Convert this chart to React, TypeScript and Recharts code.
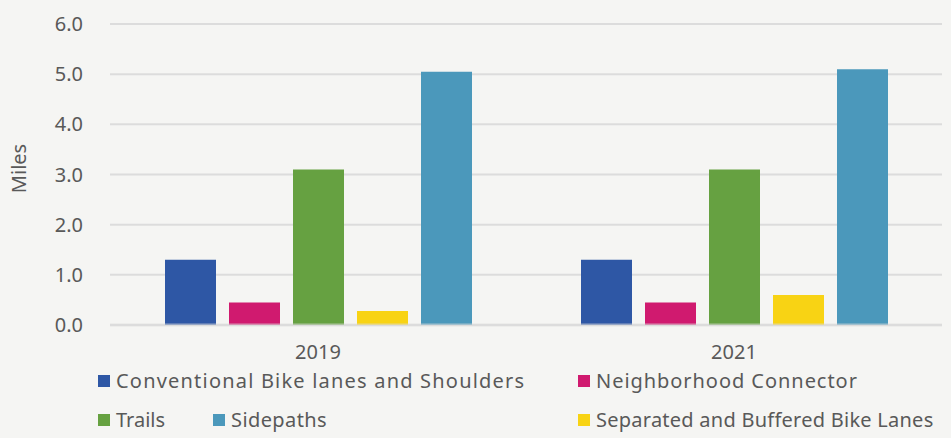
import React from "react";
import {
  BarChart,
  Bar,
  XAxis,
  YAxis,
  CartesianGrid,
  Legend,
  ReferenceLine,
} from "recharts";

const years = ["2019", "2021"];
const conventional = [1.3, 1.3];
const neighborhood = [0.45, 0.45];
const trails = [3.1, 3.1];
const separated = [0.28, 0.6];
const sidepaths = [5.05, 5.1];
const yTicks = [0, 1, 2, 3, 4, 5, 6];

const data = years.map((year, i) => ({
  year,
  conventional: conventional[i],
  neighborhood: neighborhood[i],
  trails: trails[i],
  separated: separated[i],
  sidepaths: sidepaths[i],
}));

const series = [
  { key: "conventional", name: "Conventional Bike lanes and Shoulders", color: "#2e57a5" },
  { key: "neighborhood", name: "Neighborhood Connector", color: "#d01a6f" },
  { key: "trails", name: "Trails", color: "#66a141" },
  { key: "separated", name: "Separated and Buffered Bike Lanes", color: "#f8d314" },
  { key: "sidepaths", name: "Sidepaths", color: "#4b98bb" },
];

const font = "'Noto Sans', sans-serif";
const textColor = "#595959";

// legend slots laid out like the original (two rows, three columns)
const legendSlots: Record<string, { left: number; top: number; spacing: number }> = {
  conventional: { left: 98, top: 5, spacing: 1.2 },
  neighborhood: { left: 578, top: 5, spacing: 0.95 },
  trails: { left: 98, top: 44, spacing: 0 },
  sidepaths: { left: 213, top: 44, spacing: 0.4 },
  separated: { left: 578, top: 44, spacing: 0.25 },
};

function ChartLegend() {
  return (
    <div style={{ position: "relative", width: 951, height: 75 }}>
      {series.map((s) => (
        <div
          key={s.key}
          style={{
            position: "absolute",
            left: legendSlots[s.key].left,
            top: legendSlots[s.key].top,
            display: "flex",
            alignItems: "center",
            whiteSpace: "nowrap",
            fontFamily: font,
            fontSize: 20,
            letterSpacing: legendSlots[s.key].spacing,
            color: textColor,
            lineHeight: "26px",
          }}
        >
          <span
            style={{
              display: "inline-block",
              width: 12,
              height: 12,
              background: s.color,
              marginRight: 6,
            }}
          />
          {s.name}
        </div>
      ))}
    </div>
  );
}

export default function App() {
  return (
    <div style={{ width: 951, height: 438, background: "#f5f5f3" }}>
      <style>{`body{margin:0}`}</style>
      <BarChart
        width={951}
        height={438}
        data={data}
        margin={{ top: 24, right: 9, bottom: 0, left: 0 }}
        barGap={13}
        barSize={51}
      >
        <CartesianGrid vertical={false} stroke="#dcdcdc" strokeWidth={2} />
        <XAxis
          dataKey="year"
          axisLine={false}
          tickLine={false}
          tickSize={0}
          tickMargin={20}
          height={38}
          tick={{ fill: textColor, fontSize: 20, fontFamily: font }}
        />
        <YAxis
          domain={[0, 6]}
          ticks={yTicks}
          tickFormatter={(v) => v.toFixed(1)}
          axisLine={false}
          tickLine={false}
          tickSize={0}
          tickMargin={27}
          width={110}
          tick={{ fill: textColor, fontSize: 20, fontFamily: font }}
          label={{
            value: "Miles",
            angle: -90,
            position: "insideLeft",
            offset: 19,
            dy: -6,
            style: { fill: textColor, fontSize: 20, fontFamily: font, textAnchor: "middle" },
          }}
        />
        <Legend verticalAlign="bottom" height={75} content={() => <ChartLegend />} />
        {series.map((s) => (
          <Bar
            key={s.key}
            dataKey={s.key}
            name={s.name}
            fill={s.color}
            isAnimationActive={false}
          />
        ))}
        <ReferenceLine y={0} stroke="#dcdcdc" strokeWidth={3} strokeOpacity={0.6} />
      </BarChart>
    </div>
  );
}
